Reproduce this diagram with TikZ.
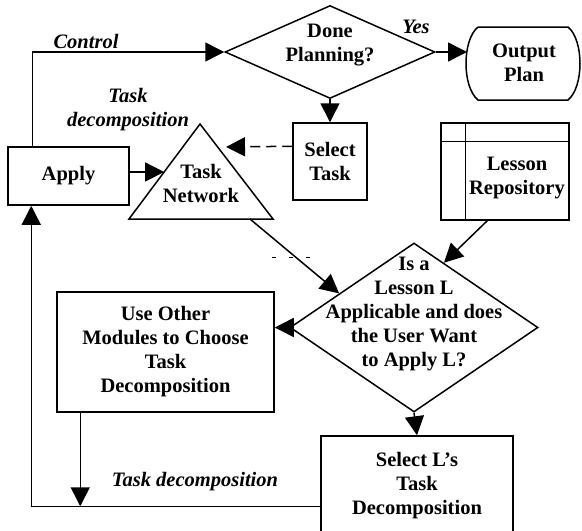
\documentclass[tikz,border=0pt]{standalone}
\usepackage{fontspec}
\setmainfont{Liberation Serif}
\usetikzlibrary{arrows.meta,calc,shapes.geometric}
\begin{document}
\begin{tikzpicture}[x=1pt,y=-1pt,line width=1.5pt,
  txt/.style={font=\bfseries\fontsize{20.5}{24}\selectfont,align=center,inner sep=0pt},
  boxnode/.style={draw,rectangle,inner sep=0pt,font=\bfseries\fontsize{20.5}{24}\selectfont,align=center},
  dia/.style={draw,diamond,inner sep=0pt},
  lbl/.style={font=\bfseries\itshape\fontsize{20.5}{24}\selectfont,align=center,inner sep=0pt},
  arr/.style={-{Triangle[length=19pt,width=19pt]}}]
\useasboundingbox (0,0) rectangle (582,531);
\clip (0,0) rectangle (582,531);

% nodes
\node[boxnode,minimum width=121pt,minimum height=58pt] (apply) at (68.5,176) {Apply};
\node[dia,minimum width=210pt,minimum height=93pt] (done) at (330,52) {};
\node[txt] (donet) at (330,45) {Done\\Planning?};
\node[boxnode,minimum width=74pt,minimum height=77pt] (seltask) at (330,161.5) {Select\\Task};
\node[draw,rectangle,minimum width=128pt,minimum height=97pt,inner sep=0pt] (lr) at (505,171.5) {};
\node[txt] (lrt) at (517,178) {Lesson\\Repository};
\node[dia,minimum width=248pt,minimum height=169pt] (ld) at (414,327.5) {};
\node[txt] (ldt) at (414,314) {Is a\\Lesson L\\Applicable and does\\the User Want\\to Apply L?};
\node[boxnode,minimum width=217pt,minimum height=120pt] (uo) at (165.5,352) {Use Other\\Modules to Choose\\Task\\Decomposition};
\node[boxnode,minimum width=192pt,minimum height=100pt] (sl) at (417,486) {Select L’s\\Task\\Decomposition};
\node[txt] (outp) at (524,63) {Output\\Plan};

% output plan terminal shape
\draw (478,27) -- (568,27) .. controls (584,40) and (584,87) .. (568,100)
      -- (478,100) .. controls (462,87) and (462,40) .. (478,27);
\coordinate (opw) at (467,52);

% lesson repository inner lines
\draw ($(lr.north west)+(25,0)$) -- ($(lr.south west)+(25,0)$);
\draw ($(lr.north west)+(0,19)$) -- ($(lr.north east)+(0,19)$);

% task network triangle
\coordinate (apx) at (200,124);
\coordinate (tbl) at (129,219);
\coordinate (tbr) at (273,219);
\draw (apx) -- (tbl) -- (tbr) -- cycle;
\node[txt] (tn) at (201,183) {Task\\Network};
\coordinate (tnl) at ($(apx)!0.505!(tbl)$);
\coordinate (tnr) at (226,147);
\coordinate (tnb) at ($(tbl)!0.84!(tbr)$);

% labels
\node[lbl] (ctl) at (86,41) {Control};
\node[lbl] (yes) at (416,27) {Yes};
\node[lbl] (tdu) at (128,110) {Task\\decomposition};
\node[lbl] (tdl) at (195,482) {Task decomposition};

% connectors
\coordinate (apn) at ($(apply.north west)+(25,0)$);
\draw[arr] (apn) |- (done.west);
\draw[arr] (done.east) -- (opw);
\draw[arr] (done.south) -- (seltask.north);
\coordinate (stw) at ($(seltask.north west)+(0,24)$);
\draw[arr,dashed,dash pattern=on 10pt off 6pt] (stw) -- (tnr);
\draw[arr] (apply.east |- tnl) -- (tnl);
\coordinate (ldul) at ($(ld.west)!0.4!(ld.north)$);
\draw[arr] (tnb) -- (ldul);
\coordinate (lrs) at ($(lr.south west)+(47,0)$);
\coordinate (ldur) at ($(ld.north)!0.24!(ld.east)$);
\draw[arr] (lrs) -- (ldur);
\draw[arr] (ld.west) -- (ld.west -| uo.east);
\draw[arr] (ld.south) -- (sl.north);
\coordinate (slw) at ($(sl.north west)+(0,71)$);
\coordinate (aps) at ($(apply.south west)+(24,0)$);
\draw[arr] (slw) -| (aps);
\coordinate (uob) at ($(uo.south west)+(24,0)$);
\draw[arr] (uob) -- (uob |- slw);

% stray dash fragment
\coordinate (frA) at (272,257);
\coordinate (frB) at (313,257);
\draw[line width=1pt,dash pattern=on 4pt off 13pt] (frA) -- (frB);
\end{tikzpicture}
\end{document}
